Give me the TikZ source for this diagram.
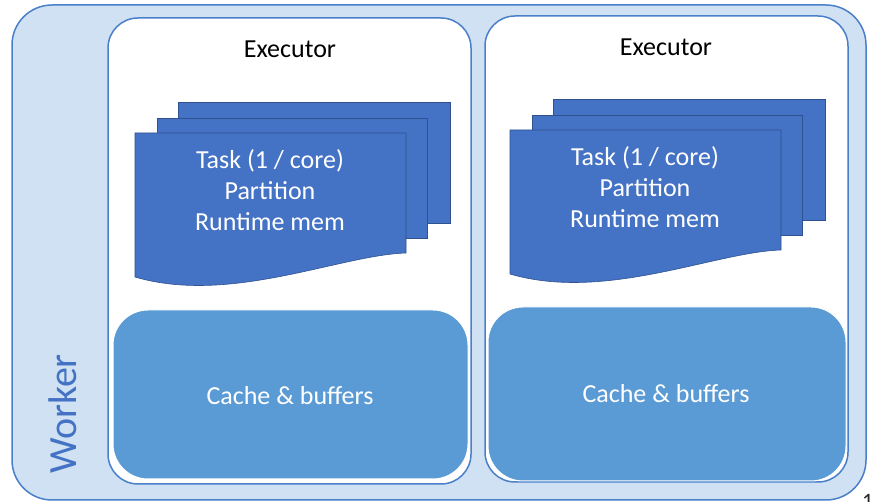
\documentclass[tikz,border=0pt]{standalone}
\usepackage{fontspec}
\setmainfont{Carlito}
\definecolor{workerfill}{HTML}{CFE1F2}
\definecolor{workerline}{HTML}{4A7FC9}
\definecolor{docfill}{HTML}{4472C4}
\definecolor{docline}{HTML}{2F528F}
\definecolor{cachefill}{HTML}{5B9BD5}
\tikzset{
  workerbox/.style={draw=workerline, line width=1.5pt, fill=workerfill, rounded corners=40pt},
  execbox/.style={draw=workerline, line width=1.5pt, fill=white, rounded corners=30pt},
  cachebox/.style={draw=white, line width=1pt, fill=cachefill, rounded corners=35pt},
  docsheet/.style={draw=docline, line width=0.6pt, fill=docfill},
  bigtext/.style={font=\fontsize{26}{31}\selectfont, inner sep=0pt, align=center},
}
\newcommand{\mydocstack}{%
  \draw[docsheet] (178,102) rectangle (450,223);
  \draw[docsheet] (157,118) rectangle (427,238);
  \draw[docsheet] (135,133) -- (406,133) -- (406,253)
     .. controls (340,255) and (230,305) .. (135,277) -- cycle;
}
\begin{document}
\begin{tikzpicture}[x=1pt,y=-1pt]
\useasboundingbox (0,0) rectangle (871,502);
\clip (0,0) rectangle (871,502);
\fill[white] (0,0) rectangle (871,502);
\draw[workerbox] (12,5) rectangle (866,500);
\node[font=\fontsize{40}{48}\selectfont, text=docfill, rotate=90, inner sep=0pt] (worker) at (63,414) {Worker};
% executor 1
\draw[execbox] (108,18) rectangle (471,484);
\node[bigtext] (exec1) at (290,49) {Executor};
\mydocstack
\node[bigtext, text=white] (task1) at (270,190) {Task (1 / core)\\Partition\\Runtime mem};
\draw[cachebox] (113,310) rectangle (468,479);
\node[bigtext, text=white] (cache1) at (290,396) {Cache \& buffers};
% executor 2
\draw[execbox] (485,16) rectangle (848,482);
\node[bigtext] (exec2) at (666,47) {Executor};
\begin{scope}[shift={(375,-3)}]
\mydocstack
\end{scope}
\node[bigtext, text=white] (task2) at (645,187) {Task (1 / core)\\Partition\\Runtime mem};
\draw[cachebox] (488,307) rectangle (846,481);
\node[bigtext, text=white] (cache2) at (666,394) {Cache \& buffers};
\node[font=\fontsize{22}{26}\selectfont, anchor=base west, inner sep=0pt, text=black!85] (pagenum) at (862,509) {1};
\end{tikzpicture}
\end{document}
